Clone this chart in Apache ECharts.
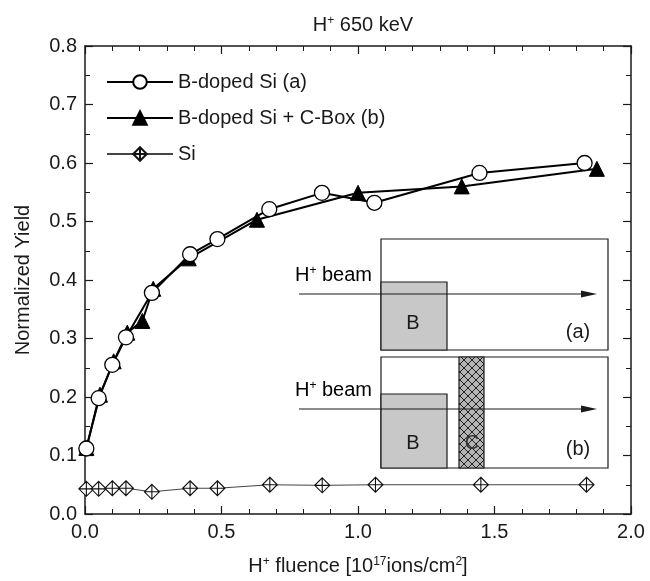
<!DOCTYPE html>
<html>
<head>
<meta charset="utf-8">
<script src="https://cdn.jsdelivr.net/npm/echarts@6/dist/echarts.min.js"></script>
<style>
  html, body { margin: 0; padding: 0; background: #fff; }
  #chart { width: 650px; height: 581px; }
</style>
</head>
<body>
<div id="chart"></div>
<script>
// data
const fluenceA = [0.005, 0.05, 0.10, 0.15, 0.245, 0.385, 0.485, 0.675, 0.868, 1.06, 1.445, 1.83];
const yieldA = [0.112, 0.198, 0.255, 0.302, 0.378, 0.444, 0.470, 0.521, 0.549, 0.532, 0.583, 0.600];
const fluenceB = [0.005, 0.055, 0.105, 0.155, 0.21, 0.25, 0.38, 0.63, 1.00, 1.38, 1.875];
const yieldB = [0.113, 0.204, 0.261, 0.310, 0.330, 0.385, 0.437, 0.503, 0.549, 0.560, 0.590];
const fluenceSi = [0.005, 0.05, 0.10, 0.15, 0.245, 0.385, 0.485, 0.677, 0.869, 1.064, 1.45, 1.837];
const yieldSi = [0.043, 0.043, 0.044, 0.044, 0.038, 0.044, 0.044, 0.050, 0.049, 0.050, 0.050, 0.050];
const seriesNames = ['B-doped Si (a)', 'B-doped Si + C-Box (b)', 'Si'];

const FONT = '"Liberation Sans", Arial, Helvetica, sans-serif';
const INK = '#1a1a1a';

function pairs(xs, ys) {
  return xs.map((x, i) => [x, ys[i]]);
}

// cross-hatch fill for the C box
function hatchPattern() {
  const c = document.createElement('canvas');
  c.width = 8; c.height = 8;
  const g = c.getContext('2d');
  g.fillStyle = '#b4b4b4';
  g.fillRect(0, 0, 8, 8);
  g.strokeStyle = '#222';
  g.lineWidth = 1;
  g.beginPath();
  g.moveTo(0, 0); g.lineTo(8, 8);
  g.moveTo(8, 0); g.lineTo(0, 8);
  g.stroke();
  return { image: c, repeat: 'repeat' };
}

const supRich = {
  a: { fontSize: 20, fontFamily: FONT, color: INK, fontWeight: 'normal' },
  s: { fontSize: 12, fontFamily: FONT, color: INK, fontWeight: 'normal', verticalAlign: 'top' }
};

const diamondCross = 'path://M0,-10 L10,0 L0,10 L-10,0 Z M0,-10 L0,10 M-10,0 L10,0';

function axisCommon(extra) {
  return Object.assign({
    type: 'value',
    axisLine: { show: true, onZero: false, lineStyle: { color: INK, width: 1.5 } },
    axisTick: { show: true, inside: true, length: 8, lineStyle: { color: INK, width: 1.2 } },
    minorTick: { show: true, length: 5, lineStyle: { color: INK, width: 1 } },
    splitLine: { show: false }
  }, extra);
}

function inset() {
  const els = [];
  const boxes = [
    { top: 239, bottom: 350, bTop: 282, arrowY: 294, label: '(a)', bLabelY: 323, tagY: 332 },
    { top: 357, bottom: 468, bTop: 394, arrowY: 409, label: '(b)', bLabelY: 443, tagY: 449 }
  ];
  boxes.forEach((b, i) => {
    els.push({
      type: 'rect', shape: { x: 381, y: b.top, width: 227, height: b.bottom - b.top },
      style: { fill: '#fff', stroke: INK, lineWidth: 1.2 }, z: 10
    });
    els.push({
      type: 'rect', shape: { x: 381, y: b.bTop, width: 66, height: b.bottom - b.bTop },
      style: { fill: '#c8c8c8', stroke: INK, lineWidth: 1.2 }, z: 11
    });
    els.push({
      type: 'text', x: 413, y: b.bLabelY, z: 13,
      style: { text: 'B', font: '20px ' + FONT, fill: INK, align: 'center', verticalAlign: 'middle' }
    });
    if (i === 1) {
      els.push({
        type: 'rect', shape: { x: 459, y: b.top, width: 25, height: b.bottom - b.top },
        style: { fill: hatchPattern(), stroke: INK, lineWidth: 1.2 }, z: 11
      });
      els.push({
        type: 'text', x: 472, y: b.bLabelY, z: 13,
        style: { text: 'C', font: '20px ' + FONT, fill: '#333', align: 'center', verticalAlign: 'middle' }
      });
    }
    els.push({
      type: 'line', shape: { x1: 299, y1: b.arrowY, x2: 588, y2: b.arrowY },
      style: { stroke: INK, lineWidth: 1.2 }, z: 12
    });
    els.push({
      type: 'polygon', shape: { points: [[581, b.arrowY - 3.5], [597, b.arrowY], [581, b.arrowY + 3.5]] },
      style: { fill: INK }, z: 12
    });
    els.push({
      type: 'text', x: 578, y: b.tagY, z: 13,
      style: { text: b.label, font: '20px ' + FONT, fill: INK, align: 'center', verticalAlign: 'middle' }
    });
    els.push({
      type: 'text', x: 372, y: b.arrowY - 9, z: 13,
      style: {
        text: '{a|H}{s|+}{a| beam}', align: 'right', verticalAlign: 'bottom',
        rich: supRich
      }
    });
  });
  return els;
}

const chart = echarts.init(document.getElementById('chart'));

const option = {
  animation: false,
  backgroundColor: '#fff',
  textStyle: { fontFamily: FONT, color: INK },
  title: {
    text: '{a|H}{s|+}{a| 650 keV}',
    left: 358, top: 10, textAlign: 'center',
    textStyle: { fontWeight: 'normal', rich: supRich }
  },
  grid: { left: 85, right: 19, top: 46, bottom: 64, containLabel: false },
  legend: {
    orient: 'vertical',
    left: 101, top: 66,
    itemWidth: 66, itemHeight: 17, itemGap: 14,
    data: seriesNames,
    textStyle: { fontSize: 20, fontFamily: FONT, color: INK, lineHeight: 22 }
  },
  xAxis: [
    axisCommon({
      min: 0, max: 2, interval: 0.5, position: 'bottom',
      minorTick: { show: true, splitNumber: 5, length: 5, lineStyle: { color: INK, width: 1 } },
      axisLabel: { fontSize: 20, color: INK, fontFamily: FONT, margin: 8, formatter: v => v.toFixed(1) },
      name: '{a|H}{s|+}{a| fluence [10}{s|17}{a|ions/cm}{s|2}{a|]}',
      nameLocation: 'middle', nameGap: 42,
      nameTextStyle: { rich: supRich }
    }),
    axisCommon({
      min: 0, max: 2, interval: 0.5, position: 'top',
      minorTick: { show: true, splitNumber: 5, length: 5, lineStyle: { color: INK, width: 1 } },
      axisLabel: { show: false }
    })
  ],
  yAxis: [
    axisCommon({
      min: 0, max: 0.8, interval: 0.1, position: 'left',
      minorTick: { show: true, splitNumber: 2, length: 5, lineStyle: { color: INK, width: 1 } },
      axisLabel: { fontSize: 20, color: INK, fontFamily: FONT, margin: 8, formatter: v => v.toFixed(1) },
      name: 'Normalized Yield', nameLocation: 'middle', nameGap: 52, nameRotate: 90,
      nameTextStyle: { fontSize: 20, color: INK, fontFamily: FONT }
    }),
    axisCommon({
      min: 0, max: 0.8, interval: 0.1, position: 'right',
      minorTick: { show: true, splitNumber: 2, length: 5, lineStyle: { color: INK, width: 1 } },
      axisLabel: { show: false }
    })
  ],
  series: [
    {
      name: seriesNames[1], type: 'line', data: pairs(fluenceB, yieldB),
      symbol: 'triangle', symbolSize: 15, clip: false, z: 3,
      lineStyle: { color: '#000', width: 2 },
      itemStyle: { color: '#000', borderColor: '#000', borderWidth: 1 }
    },
    {
      name: seriesNames[0], type: 'line', data: pairs(fluenceA, yieldA),
      symbol: 'circle', symbolSize: 15, clip: false, z: 4,
      lineStyle: { color: '#000', width: 2 },
      itemStyle: { color: '#fff', borderColor: '#000', borderWidth: 1.3 }
    },
    {
      name: seriesNames[2], type: 'line', data: pairs(fluenceSi, yieldSi),
      symbol: diamondCross, symbolSize: 15, clip: false, z: 3,
      lineStyle: { color: '#444', width: 1 },
      itemStyle: { color: '#fff', borderColor: '#111', borderWidth: 1.1 }
    }
  ],
  graphic: inset()
};

chart.setOption(option);

window.addEventListener('resize', () => {
  chart.resize();
});
</script>
</body>
</html>
